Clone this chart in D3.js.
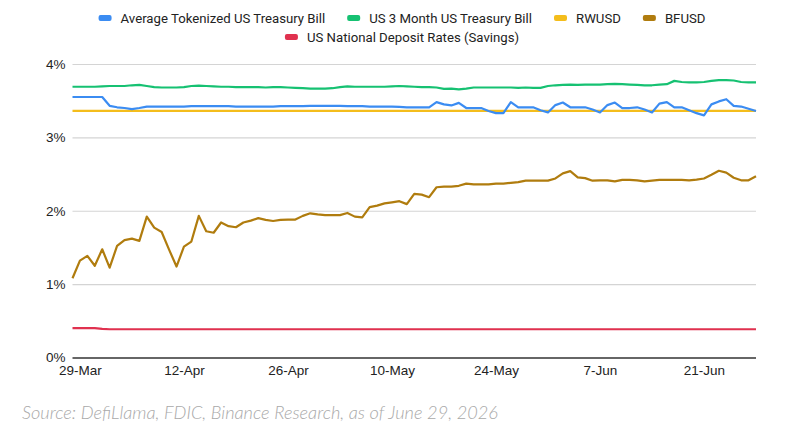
<!DOCTYPE html>
<html>
<head>
<meta charset="utf-8">
<script src="https://cdn.jsdelivr.net/npm/d3@7"></script>
<style>
  body { margin: 0; background: #fff; }
  svg { display: block; }
</style>
</head>
<body>
<svg id="chart" width="789" height="445"></svg>
<script>
// daily observations, 28-Mar to 28-Jun 2026
var firstDay = new Date(2026, 2, 28);
var lastDay = new Date(2026, 5, 29);
var dates = d3.timeDay.range(firstDay, lastDay);

var tickLabels = ['29-Mar', '12-Apr', '26-Apr', '10-May', '24-May', '7-Jun', '21-Jun'];
var yTicks = [0, 1, 2, 3, 4];

var avgTokenized = [
  3.55, 3.55, 3.55, 3.55, 3.55, 3.43, 3.41, 3.40, 3.385, 3.40,
  3.42, 3.42, 3.42, 3.42, 3.42, 3.42, 3.425, 3.425, 3.425, 3.425,
  3.425, 3.425, 3.42, 3.42, 3.42, 3.42, 3.42, 3.42, 3.425, 3.425,
  3.425, 3.425, 3.43, 3.43, 3.43, 3.43, 3.43, 3.425, 3.425, 3.425,
  3.42, 3.42, 3.42, 3.42, 3.415, 3.41, 3.41, 3.41, 3.41, 3.48,
  3.45, 3.435, 3.47, 3.40, 3.40, 3.40, 3.36, 3.33, 3.33, 3.48,
  3.41, 3.41, 3.41, 3.37, 3.34, 3.44, 3.475, 3.41, 3.41, 3.41,
  3.38, 3.34, 3.44, 3.475, 3.40, 3.40, 3.41, 3.38, 3.34, 3.46,
  3.48, 3.41, 3.41, 3.37, 3.33, 3.30, 3.45, 3.49, 3.52, 3.43,
  3.42, 3.39, 3.36
];

var tbill3m = [
  3.69, 3.69, 3.69, 3.69, 3.695, 3.70, 3.70, 3.70, 3.71, 3.715,
  3.70, 3.685, 3.68, 3.68, 3.68, 3.685, 3.70, 3.705, 3.70, 3.695,
  3.69, 3.69, 3.685, 3.685, 3.685, 3.685, 3.68, 3.685, 3.685, 3.68,
  3.675, 3.67, 3.665, 3.665, 3.665, 3.67, 3.685, 3.695, 3.69, 3.69,
  3.69, 3.69, 3.69, 3.695, 3.70, 3.695, 3.69, 3.685, 3.685, 3.68,
  3.66, 3.665, 3.655, 3.665, 3.68, 3.68, 3.68, 3.68, 3.68, 3.68,
  3.675, 3.68, 3.675, 3.675, 3.70, 3.71, 3.715, 3.72, 3.715, 3.72,
  3.72, 3.72, 3.725, 3.73, 3.725, 3.72, 3.715, 3.71, 3.71, 3.72,
  3.725, 3.77, 3.755, 3.75, 3.75, 3.755, 3.77, 3.78, 3.78, 3.775,
  3.755, 3.75, 3.75
];

var rwusd = [
  3.36, 3.36, 3.36, 3.36, 3.36, 3.36, 3.36, 3.36, 3.36, 3.36,
  3.36, 3.36, 3.36, 3.36, 3.36, 3.36, 3.36, 3.36, 3.36, 3.36,
  3.36, 3.36, 3.36, 3.36, 3.36, 3.36, 3.36, 3.36, 3.36, 3.36,
  3.36, 3.36, 3.36, 3.36, 3.36, 3.36, 3.36, 3.36, 3.36, 3.36,
  3.36, 3.36, 3.36, 3.36, 3.36, 3.36, 3.36, 3.36, 3.36, 3.36,
  3.36, 3.36, 3.36, 3.36, 3.36, 3.36, 3.36, 3.36, 3.36, 3.36,
  3.36, 3.36, 3.36, 3.36, 3.36, 3.36, 3.36, 3.36, 3.36, 3.36,
  3.36, 3.36, 3.36, 3.36, 3.36, 3.36, 3.36, 3.36, 3.36, 3.36,
  3.36, 3.36, 3.36, 3.36, 3.36, 3.36, 3.36, 3.36, 3.36, 3.36,
  3.36, 3.36, 3.36
];

var bfusd = [
  1.08, 1.32, 1.385, 1.25, 1.475, 1.225, 1.52, 1.60, 1.62, 1.59,
  1.92, 1.77, 1.71, 1.47, 1.24, 1.51, 1.58, 1.93, 1.72, 1.70,
  1.84, 1.79, 1.775, 1.84, 1.865, 1.90, 1.875, 1.86, 1.875, 1.88,
  1.88, 1.93, 1.965, 1.95, 1.94, 1.94, 1.94, 1.97, 1.92, 1.91,
  2.05, 2.07, 2.10, 2.115, 2.13, 2.09, 2.23, 2.22, 2.185, 2.32,
  2.33, 2.33, 2.34, 2.37, 2.36, 2.36, 2.36, 2.37, 2.37, 2.38,
  2.39, 2.41, 2.41, 2.41, 2.41, 2.44, 2.51, 2.54, 2.455, 2.445,
  2.41, 2.415, 2.415, 2.40, 2.42, 2.42, 2.415, 2.40, 2.41, 2.42,
  2.42, 2.42, 2.42, 2.415, 2.425, 2.44, 2.49, 2.545, 2.52, 2.45,
  2.415, 2.415, 2.47
];

var depositRates = [
  0.40, 0.40, 0.40, 0.40, 0.39, 0.385, 0.385, 0.385, 0.385, 0.385,
  0.385, 0.385, 0.385, 0.385, 0.385, 0.385, 0.385, 0.385, 0.385, 0.385,
  0.385, 0.385, 0.385, 0.385, 0.385, 0.385, 0.385, 0.385, 0.385, 0.385,
  0.385, 0.385, 0.385, 0.385, 0.385, 0.385, 0.385, 0.385, 0.385, 0.385,
  0.385, 0.385, 0.385, 0.385, 0.385, 0.385, 0.385, 0.385, 0.385, 0.385,
  0.385, 0.385, 0.385, 0.385, 0.385, 0.385, 0.385, 0.385, 0.385, 0.385,
  0.385, 0.385, 0.385, 0.385, 0.385, 0.385, 0.385, 0.385, 0.385, 0.385,
  0.385, 0.385, 0.385, 0.385, 0.385, 0.385, 0.385, 0.385, 0.385, 0.385,
  0.385, 0.385, 0.385, 0.385, 0.385, 0.385, 0.385, 0.385, 0.385, 0.385,
  0.385, 0.385, 0.385
];

var seriesNames = ['Average Tokenized US Treasury Bill', 'US 3 Month US Treasury Bill', 'RWUSD', 'BFUSD', 'US National Deposit Rates (Savings)'];
var seriesColors = ['#3b8cf2', '#16c172', '#f4bd1c', '#b07c0e', '#e0314f'];
var seriesValues = [avgTokenized, tbill3m, rwusd, bfusd, depositRates];

var svg = d3.select('#chart');
var plotLeft = 72.5, plotRight = 756, plotTop = 64, plotBottom = 357.5;
var axisFont = '"Liberation Sans", Arial, sans-serif';

var parseTick = d3.timeParse('%d-%b-%Y');
var tickDates = tickLabels.map(function(t){ return parseTick(t + '-2026'); });

var x = d3.scaleTime()
          .domain([dates[0], dates[dates.length - 1]])
          .range([plotLeft, plotRight]);

var y = d3.scaleLinear()
          .domain([0, 4])
          .range([plotBottom, plotTop]);

// grid + y labels
var yAxis = d3.axisLeft(y)
              .tickValues(yTicks)
              .tickFormat(function(d){ return d + '%'; })
              .tickSize(-(plotRight - plotLeft))
              .tickPadding(7);

var gy = svg.append('g')
            .attr('transform', 'translate(' + plotLeft + ',0)')
            .call(yAxis);
gy.select('.domain').remove();
gy.selectAll('.tick line')
  .attr('stroke', function(d){ return d === 0 ? '#333' : '#d4d4d4'; })
  .attr('stroke-width', function(d){ return d === 0 ? 1.3 : 1.1; });
gy.selectAll('.tick text')
  .attr('fill', '#222')
  .style('font-family', axisFont)
  .style('font-size', '13.5px');

// x labels
var xAxis = d3.axisBottom(x)
              .tickValues(tickDates)
              .tickFormat(function(d, i){ return tickLabels[i]; })
              .tickSize(0)
              .tickPadding(8);

var gx = svg.append('g')
            .attr('transform', 'translate(0,' + plotBottom + ')')
            .call(xAxis);
gx.select('.domain').remove();
gx.selectAll('.tick text')
  .attr('fill', '#222')
  .style('font-family', axisFont)
  .style('font-size', '13.5px');

// lines
var line = d3.line()
             .x(function(d, i){ return x(dates[i]); })
             .y(function(d){ return y(d); });

var drawOrder = [4, 3, 2, 1, 0];
drawOrder.forEach(function(k){
  svg.append('path')
     .datum(seriesValues[k])
     .attr('fill', 'none')
     .attr('stroke', seriesColors[k])
     .attr('stroke-width', 2.2)
     .attr('stroke-linejoin', 'round')
     .attr('d', line);
});

// legend, two centred rows
var legendRows = [[0, 1, 2, 3], [4]];
var legendY = [18, 37];
legendRows.forEach(function(row, r){
  var g = svg.append('g');
  var cursor = 0;
  row.forEach(function(k){
    var item = g.append('g').attr('transform', 'translate(' + cursor + ',0)');
    item.append('rect')
        .attr('x', 0).attr('y', -3)
        .attr('width', 13).attr('height', 6)
        .attr('rx', 2)
        .attr('fill', seriesColors[k]);
    var t = item.append('text')
        .attr('x', 22).attr('y', 5)
        .attr('fill', '#222')
        .style('font-family', 'Roboto, Arial, sans-serif')
        .style('font-size', '13.2px')
        .text(seriesNames[k]);
    cursor += 22 + t.node().getComputedTextLength() + 22;
  });
  var width = cursor - 22;
  g.attr('transform', 'translate(' + (402 - width / 2) + ',' + legendY[r] + ')');
});

// source note
svg.append('text')
   .attr('x', 22).attr('y', 419)
   .attr('fill', '#a9a9a9')
   .attr('textLength', 476)
   .attr('lengthAdjust', 'spacingAndGlyphs')
   .style('font-family', 'Lato, sans-serif')
   .style('font-style', 'italic')
   .style('font-weight', 300)
   .style('font-size', '17px')
   .text('Source: DefiLlama, FDIC, Binance Research, as of June 29, 2026');
</script>
</body>
</html>
